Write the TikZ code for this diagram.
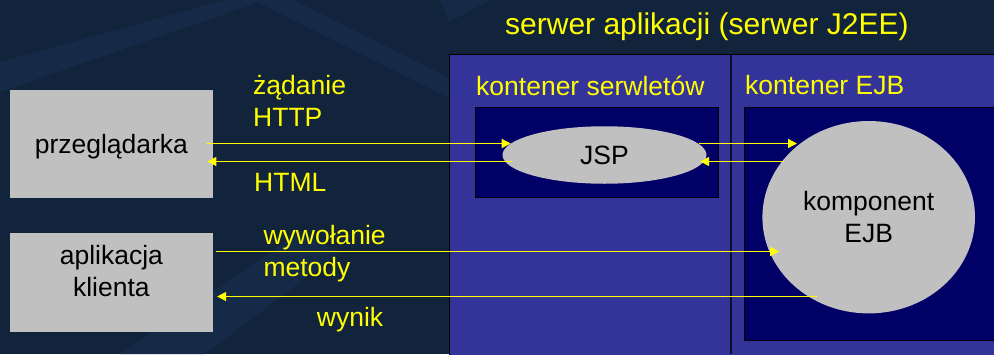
\documentclass[tikz,border=0pt]{standalone}
\usepackage{fontspec}
\setmainfont{Liberation Sans}
\usetikzlibrary{arrows.meta,shapes.geometric}

\definecolor{tlo}{HTML}{12233C}
\definecolor{pasek}{HTML}{152A46}
\definecolor{serwerfill}{HTML}{333399}
\definecolor{kontfill}{HTML}{000066}
\definecolor{szary}{HTML}{C0C0C0}
\definecolor{zolty}{HTML}{FFFF00}

\tikzset{
  klientbox/.style={rectangle, fill=szary, minimum width=203pt, align=center, inner sep=0pt},
  komp/.style={ellipse, fill=szary, inner sep=0pt, align=center},
  opis/.style={text=zolty, anchor=base west, align=left, inner sep=0pt},
  msg/.style={zolty, line width=1.4pt, -{Triangle[length=9pt,width=9pt]}},
}

\begin{document}
\begin{tikzpicture}[x=1pt,y=-1pt,font=\fontsize{26.5}{32}\selectfont]
\useasboundingbox (0,0) rectangle (994,354);
% Background
\fill[tlo] (0,0) rectangle (994,354);
\fill[pasek] (253,0) -- (293,0) -- (449,78) -- (449,98) -- (253,0);
\fill[pasek] (0,62) -- (0,92) -- (265,0) -- (225,0) -- (0,62);
\fill[pasek] (120,354) -- (300,232) -- (340,252) -- (205,354) -- (120,354);
\fill[pasek] (440,0) -- (490,0) -- (449,22) -- (440,0);
%
% Server
\filldraw[fill=serwerfill, draw=black, line width=1pt] (449,54) rectangle (1000,360);
\draw[black!75!serwerfill, line width=1.2pt] (731,54) -- (731,354);
\node[text=zolty, anchor=base west, inner sep=0pt, font=\fontsize{30}{36}\selectfont] (tytul) at (505,34.3) {serwer aplikacji (serwer J2EE)};
\node[opis] (kserwlet) at (476,95) {kontener serwletów};
\node[opis] (kejb) at (745,94.3) {kontener EJB};
\filldraw[fill=kontfill, draw=black] (475,107.5) rectangle (718,197.5);
\filldraw[fill=kontfill, draw=black] (744,107.5) rectangle (1000,340.5);
%
\node[komp, minimum width=204pt, minimum height=57.5pt] (jsp) at (604.5,155) {JSP};
\node[komp, minimum width=212.6pt, minimum height=192.4pt] (ejb) at (868.7,217.2) {komponent\\EJB};
%
% Clients
\node[klientbox, minimum height=107.7pt, text depth=0pt] (przeg) at (111.4,143.8) {przeglądarka};
\node[klientbox, minimum height=98.7pt, text depth=22.6pt] (klient) at (111.4,282.5) {aplikacja\\klienta};
%
% Messages
\draw[msg, shorten <=-5.7pt] (przeg.east |- 0,143.5) -- (jsp.173 |- 0,143.5);
\draw[msg, shorten <=-9.2pt, shorten >=-5.7pt] (jsp.west |- 0,161.5) -- (przeg.east |- 0,161.5);
\draw[msg, shorten <=-7.5pt, shorten >=3pt] (jsp.east |- 0,143.5) -- (ejb.133 |- 0,143.5);
\draw[msg, shorten <=-1.6pt, shorten >=-6.5pt] (ejb.147 |- 0,161.5) -- (jsp.east |- 0,161.5);
\draw[msg, shorten <=3.1pt, shorten >=-16.9pt] (klient.east |- 0,251.5) -- (ejb.west |- 0,251.5);
\draw[msg, shorten <=-9.4pt, shorten >=4pt] (ejb.232 |- 0,296.5) -- (klient.east |- 0,296.5);
%
\node[opis] (zadanie) at (253,126.7) {żądanie\\HTTP};
\node[opis] (html) at (254,191.7) {HTML};
\node[opis] (wywolanie) at (263.3,276.7) {wywołanie\\metody};
\node[opis] (wynik) at (316.7,326.7) {wynik};
\end{tikzpicture}
\end{document}
